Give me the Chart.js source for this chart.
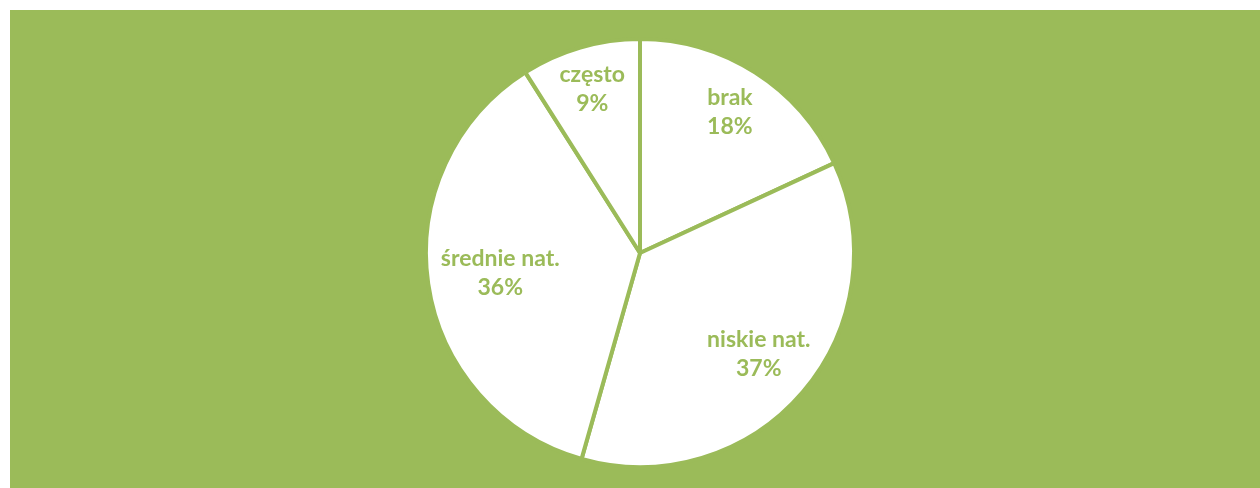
<!DOCTYPE html>
<html>
<head>
<meta charset="utf-8">
<script src="https://cdn.jsdelivr.net/npm/chart.js@4.4.1/dist/chart.umd.min.js"></script>
<style>
  html, body { margin: 0; padding: 0; background: #fff; }
  #wrap { position: absolute; left: 10px; top: 10px; width: 1250px; height: 478px; background: #9BBB59; }
</style>
</head>
<body>
<div id="wrap"><canvas id="chart"></canvas></div>
<script>
const categories = ['brak', 'niskie nat.', 'średnie nat.', 'często'];
// slice sizes as measured from the slice angles
const shares = [18.1, 36.3, 36.6, 9.0];
const percentLabels = ['18%', '37%', '36%', '9%'];

const green = '#9BBB59';

// draws the category + percent text inside each slice, Excel style
const sliceLabels = {
  id: 'sliceLabels',
  afterDatasetsDraw(chart, args, opts) {
    const ctx = chart.ctx;
    const meta = chart.getDatasetMeta(0);
    ctx.save();
    ctx.fillStyle = green;
    ctx.font = opts.font;
    ctx.textAlign = 'center';
    ctx.textBaseline = 'middle';
    meta.data.forEach((arc, i) => {
      const mid = (arc.startAngle + arc.endAngle) / 2;
      const r = arc.outerRadius * opts.radial[i];
      const x = arc.x + Math.cos(mid) * r;
      const y = arc.y + Math.sin(mid) * r;
      ctx.fillText(categories[i], x, y - opts.lineGap / 2);
      ctx.fillText(percentLabels[i], x, y + opts.lineGap / 2);
    });
    ctx.restore();
  }
};

new Chart(document.getElementById('chart'), {
  type: 'pie',
  data: {
    labels: categories,
    datasets: [{
      data: shares,
      backgroundColor: '#ffffff',
      borderColor: green,
      borderWidth: 4,
    }],
  },
  options: {
    responsive: true,
    maintainAspectRatio: false,
    animation: false,
    layout: { padding: { top: 27, bottom: 19, left: 10, right: 0 } },
    plugins: {
      legend: { display: false },
      tooltip: { enabled: false },
      sliceLabels: {
        font: 'bold 23px Lato',
        lineGap: 29,
        radial: [0.78, 0.73, 0.66, 0.8],
      },
    },
  },
  plugins: [sliceLabels],
});
</script>
</body>
</html>
